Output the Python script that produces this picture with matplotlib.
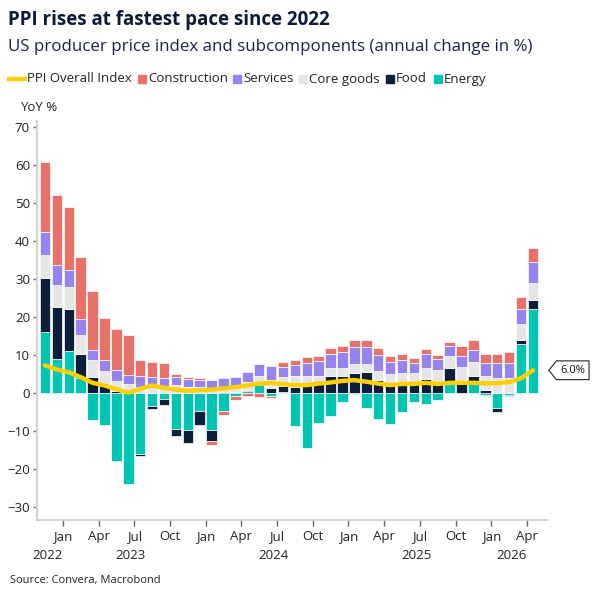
import matplotlib
matplotlib.use("Agg")
import matplotlib.pyplot as plt
import matplotlib.transforms as mtransforms
from matplotlib.path import Path
from matplotlib.patches import Rectangle
from matplotlib.lines import Line2D
import numpy as np
import pandas as pd

plt.rcParams['font.family'] = ['Open Sans', 'DejaVu Sans']

# monthly data, Nov 2022 .. Apr 2026 (yoy %, contribution of each part)
months = pd.date_range('2022-11-01', '2026-04-01', freq='MS')
energy = [16.0, 8.9, 11.0, 4.0, -7.2, -8.5, -17.9, -23.9, -16.1, -3.5, -1.6,
          -9.4, -9.6, -4.6, -9.6, -4.6, -0.8, 0.6, 2.1, -0.8, 0.3,
          -8.7, -14.5, -8.0, -6.1, -2.3, -0.3, -3.9, -6.8, -8.2, -4.9,
          -2.3, -2.9, -1.7, 3.2, 0.0, 3.2, -0.5, -4.0, -0.5, 12.8, 22.1]
food = [14.4, 13.8, 11.2, 6.3, 4.2, 2.2, 0.5, 0.0, -0.4, -0.6, -1.5,
        -1.9, -3.6, -3.8, -2.9, 0.2, 0.2, 0.2, 0.2, 1.4, 1.5,
        1.7, 2.0, 2.5, 4.5, 4.5, 5.4, 5.6, 3.4, 2.5, 2.8,
        2.3, 3.7, 3.2, 3.5, 3.4, 1.4, 0.8, -0.9, -0.2, 1.1, 2.4]
core_goods = [6.0, 5.8, 5.8, 5.1, 4.5, 3.5, 2.8, 2.3, 1.7, 1.9, 1.9,
              2.0, 1.7, 1.7, 1.4, 1.5, 1.2, 2.0, 2.2, 2.0, 2.4,
              2.7, 2.4, 2.1, 2.2, 2.0, 2.2, 2.0, 2.3, 2.6, 2.6,
              3.0, 3.0, 2.9, 3.0, 3.4, 3.5, 3.8, 4.0, 4.0, 4.3, 4.4]
services = [6.0, 5.3, 4.5, 4.2, 2.7, 2.9, 2.7, 2.4, 2.9, 2.3, 2.2,
            2.3, 2.0, 1.8, 2.1, 2.3, 2.8, 2.7, 3.1, 3.6, 2.7,
            2.9, 3.5, 3.8, 3.6, 4.3, 4.4, 4.4, 4.3, 3.1, 3.3,
            2.7, 3.7, 2.8, 2.8, 2.9, 3.2, 3.4, 4.0, 4.0, 3.9, 5.7]
construction = [18.5, 18.4, 16.5, 16.1, 15.4, 11.1, 10.8, 10.6, 4.0, 3.9, 3.7,
                0.7, 0.5, 0.5, -1.1, -1.2, -1.0, -0.8, -0.9, -0.6, 1.3,
                1.3, 1.7, 1.3, 1.5, 1.6, 1.9, 1.9, 1.8, 1.5, 1.6,
                1.2, 1.1, 1.1, 1.0, 2.6, 2.6, 2.4, 2.4, 2.9, 3.3, 3.5]
ppi = [7.3, 6.2, 5.5, 4.2, 2.7, 2.0, 1.0, 0.1, 1.1, 2.0, 1.4,
       0.9, 0.6, 0.8, 0.9, 1.2, 1.6, 2.0, 2.5, 2.7, 2.3,
       2.1, 2.1, 2.5, 2.8, 3.2, 3.4, 3.0, 2.5, 2.1, 2.4,
       2.4, 2.7, 2.4, 2.7, 2.7, 2.7, 2.6, 2.6, 2.9, 3.9, 6.0]

c_energy = '#00c5b2'
c_food = '#0b1f3a'
c_core = '#e6e6e6'
c_serv = '#9683ef'
c_constr = '#e8716a'
c_ppi = '#ffd000'
navy = '#0e1a3a'

fig = plt.figure(figsize=(6.01, 6.01), dpi=100)
W = H = 601.0
ax = fig.add_axes([37 / W, 1 - 520 / H, 511 / W, 399 / H])

x = np.arange(len(months))
pos_base = np.zeros(len(x))
neg_base = np.zeros(len(x))
parts = [(energy, c_energy), (food, c_food), (core_goods, c_core),
         (services, c_serv), (construction, c_constr)]
for vals, col in parts:
    v = np.array(vals)
    up = v > 0
    dn = v < 0
    ax.bar(x[up], v[up], bottom=pos_base[up], width=0.88, color=col,
           edgecolor='white', linewidth=0.5, zorder=2)
    ax.bar(x[dn], v[dn], bottom=neg_base[dn], width=0.88, color=col,
           edgecolor='white', linewidth=0.5, zorder=2)
    pos_base[up] += v[up]
    neg_base[dn] += v[dn]

ax.plot(x, ppi, color=c_ppi, lw=3.2, solid_capstyle='round',
        solid_joinstyle='round', zorder=5)

ax.set_xlim(-0.67, 42.27)
ax.set_ylim(-33.4, 71.6)
ax.set_yticks(range(-30, 71, 10))

# quarter ticks at month boundaries
qt = [i - 0.5 for i, m in enumerate(months) if m.month in (1, 4, 7, 10)]
ql = [months[i].strftime('%b') for i, m in enumerate(months) if m.month in (1, 4, 7, 10)]
ax.set_xticks(qt)
ax.set_xticklabels(ql)

for s in ['top', 'right']:
    ax.spines[s].set_visible(False)
ax.spines['left'].set_color('#d4d4d4')
ax.spines['left'].set_linewidth(1.6)
ax.spines['bottom'].set_color('#cfcfcf')
ax.spines['bottom'].set_linewidth(1.2)
ax.tick_params(axis='y', length=3, width=1, color='#666666', labelsize=9.5,
               labelcolor='#222222', pad=2)
ax.tick_params(axis='x', length=4, width=1, color='#666666', labelsize=9.5,
               labelcolor='#222222', pad=3)

# year labels centred on visible part of each year
xmin, xmax = ax.get_xlim()
tr = ax.get_xaxis_transform()
for yr in sorted(set(months.year)):
    idx = [i for i, m in enumerate(months) if m.year == yr]
    a = max(idx[0] - 0.5, xmin)
    b = min(idx[-1] + 0.5, xmax)
    ax.text((a + b) / 2 - 0.3, -0.088, str(yr), transform=tr, ha='center',
            va='center', fontsize=9.5, color='#222222')

# value tag at the end of the line
def tag_box(x0, y0, width, height, mutation_size):
    pad = mutation_size * 0.35
    x0 -= pad
    y0 -= pad
    x1 = x0 + width + 2 * pad
    y1 = y0 + height + 2 * pad
    ym = (y0 + y1) / 2
    return Path([(x0, y0), (x1, y0), (x1, y1), (x0, y1),
                 (x0 - (y1 - y0) * 0.4, ym), (x0, y0)], closed=True)

btr = mtransforms.blended_transform_factory(ax.transAxes, ax.transData)
ax.text(1.024, ppi[-1], f'{ppi[-1]:.1f}%', transform=btr, ha='left',
        va='center', fontsize=8, color='#111111', clip_on=False,
        bbox=dict(boxstyle=tag_box, fc='white', ec='#222222', lw=0.8))

# titles
fig.text(8 / W, 1 - 20 / H, 'PPI rises at fastest pace since 2022',
         fontsize=13.5, fontweight='bold', color=navy, ha='left', va='center')
fig.text(8 / W, 1 - 47 / H,
         'US producer price index and subcomponents (annual change in %)',
         fontsize=12.2, color='#1c2540', ha='left', va='center')
fig.text(20 / W, 1 - 107 / H, 'YoY %', fontsize=9.5, color='#222222',
         ha='left', va='center')
fig.text(10 / W, 1 - 580 / H, 'Source: Convera, Macrobond', fontsize=8,
         color='#222222', ha='left', va='center')

# legend
ly = 1 - 79 / H
fig.add_artist(Line2D([9 / W, 25 / W], [ly, ly], color=c_ppi, lw=3,
                      transform=fig.transFigure))
fig.text(27 / W, ly, 'PPI Overall Index', fontsize=9.5, color='#222222',
         ha='left', va='center')
leg = [('Construction', c_constr, 138), ('Services', c_serv, 233),
       ('Core goods', c_core, 299), ('Food', c_food, 386),
       ('Energy', c_energy, 434)]
for name, col, px in leg:
    fig.add_artist(Rectangle((px / W, ly - 4 / H), 8 / W, 8 / H, color=col,
                             transform=fig.transFigure))
    fig.text((px + 10) / W, ly, name, fontsize=9.5, color='#222222',
             ha='left', va='center')

fig.savefig('out.png', dpi=100)
